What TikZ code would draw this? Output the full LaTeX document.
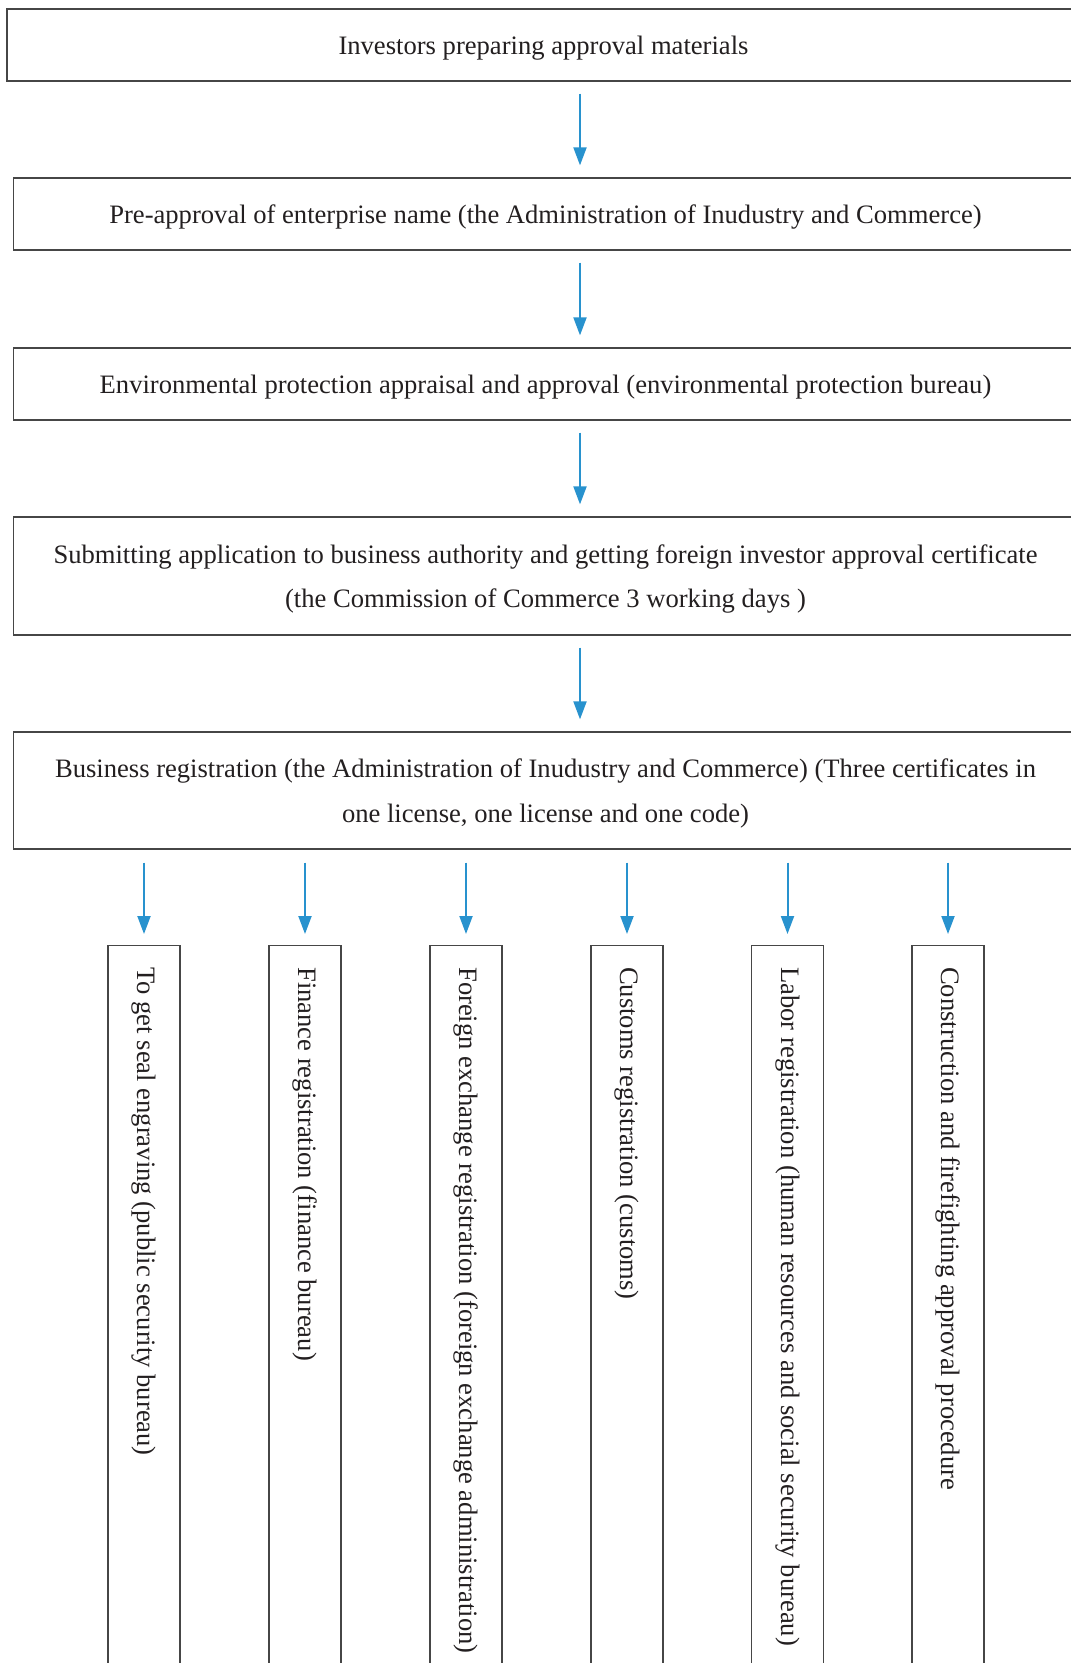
\documentclass[tikz,border=0pt]{standalone}
\usepackage{fontspec}
\setmainfont{Liberation Serif}
\usetikzlibrary{arrows.meta}
\definecolor{flowblue}{RGB}{40,146,206}
\definecolor{boxgray}{RGB}{70,70,70}
\definecolor{inkgray}{RGB}{35,31,32}
\tikzset{
  stepbox/.style={draw=boxgray,line width=1.3pt,rectangle,minimum width=1064pt,
    align=center,text=inkgray,inner sep=0pt,text depth=0pt},
  vbox/.style={draw=boxgray,line width=1.3pt,rectangle,minimum width=72pt,
    minimum height=800pt,anchor=north,inner sep=0pt},
  vtext/.style={rotate=-90,anchor=west,text=inkgray,inner sep=0pt},
  flow/.style={-{Triangle[length=18pt,width=13pt]},draw=flowblue,line width=2pt,
    shorten <=12pt,shorten >=12pt}
}
\begin{document}
\begin{tikzpicture}[x=1pt,y=-1pt]
\fontsize{26.6}{44.5}\selectfont
\path[use as bounding box,clip] (0,0) rectangle (1071,1663);
\fill[white] (0,0) rectangle (1071,1663);

\node[stepbox,minimum width=1073pt,minimum height=72pt] (b1) at (543.5,45) {Investors preparing approval materials};
\node[stepbox,minimum height=72pt] (b2) at (545.5,214) {Pre-approval of enterprise name (the Administration of Inudustry and Commerce)};
\node[stepbox,minimum height=72pt] (b3) at (545.5,384) {Environmental protection appraisal and approval (environmental protection bureau)};
\node[stepbox,minimum height=118pt] (b4) at (545.5,576) {Submitting application to business authority and getting foreign investor approval certificate\\(the Commission of Commerce 3 working days )};
\node[stepbox,minimum height=117pt] (b5) at (545.5,790.5) {Business registration (the Administration of Inudustry and Commerce) (Three certificates in\\one license, one license and one code)};

\coordinate (ax) at (580,0);
\draw[flow] (b1.south -| ax) -- (b2.north -| ax);
\draw[flow] (b2.south -| ax) -- (b3.north -| ax);
\draw[flow] (b3.south -| ax) -- (b4.north -| ax);
\draw[flow] (b4.south -| ax) -- (b5.north -| ax);

\node[vbox] (v1) at (144,945) {};
\node[vbox] (v2) at (305,945) {};
\node[vbox] (v3) at (466,945) {};
\node[vbox] (v4) at (627,945) {};
\node[vbox] (v5) at (787.5,945) {};
\node[vbox] (v6) at (948,945) {};

\node[vtext] (t1) at ([yshift=-22pt]v1.north) {To get seal engraving (public security bureau)};
\node[vtext] (t2) at ([yshift=-22pt]v2.north) {Finance registration (finance bureau)};
\node[vtext] (t3) at ([yshift=-22pt]v3.north) {Foreign exchange registration (foreign exchange administration)};
\node[vtext] (t4) at ([yshift=-22pt]v4.north) {Customs registration (customs)};
\node[vtext] (t5) at ([yshift=-22pt]v5.north) {Labor registration (human resources and social security bureau)};
\node[vtext] (t6) at ([yshift=-22pt]v6.north) {Construction and firefighting approval procedure};

\foreach \i in {1,...,6}
  \draw[flow,shorten <=13pt,shorten >=11pt] (b5.south -| v\i) -- (v\i.north);
\end{tikzpicture}
\end{document}
